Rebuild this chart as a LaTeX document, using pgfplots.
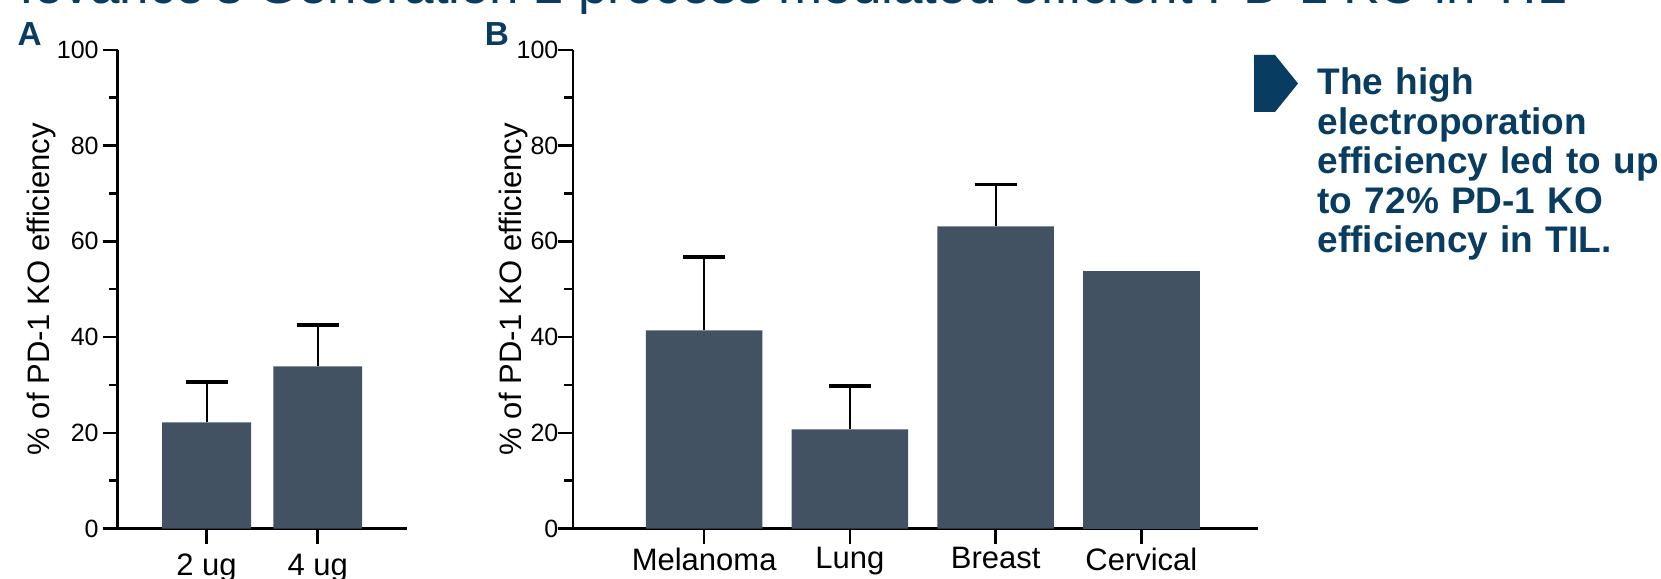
\documentclass[border=0pt]{standalone}
\usepackage{pgfplots}
\pgfplotsset{compat=1.18}
\usepackage{fontspec}
\setmainfont{Liberation Sans}
\definecolor{barcol}{RGB}{67,82,99}
\definecolor{navy}{RGB}{8,60,96}

\pgfplotsset{
 panel/.style={
  scale only axis, height=143.64pt,
  axis lines=left, axis line style={-, line width=0.8pt, black},
  ymin=0, ymax=100, ytick={0,20,...,100}, minor ytick={10,30,50,70,90},
  tick align=outside, major tick length=4.5pt, minor tick length=2.6pt,
  every tick/.style={black, line width=0.75pt},
  every minor tick/.style={black, line width=0.75pt},
  xtick=data,
  ybar, bar shift=0pt, bar width=0.8,
  /pgf/number format/assume math mode=true,
  yticklabel style={font=\fontsize{7.5}{9}\selectfont, inner sep=1pt},
  xticklabel style={font=\fontsize{9.3}{11}\selectfont, inner sep=1pt},
  ylabel={\% of PD-1 KO efficiency},
  ylabel style={font=\fontsize{9.3}{11}\selectfont, at={(axis description cs:0,0.5)}, anchor=center},
  clip=false,
 },
 errs/.style={fill=barcol, draw=none,
  error bars/.cd, y dir=plus, y explicit,
  error bar style={line width=0.6pt, black},
  error mark options={rotate=90, black, line width=1pt, mark size=6.3pt}},
}

\begin{document}
\begin{tikzpicture}
% title (clipped at top edge)
\node[anchor=base west, inner sep=0pt, font=\fontsize{15.9}{18}\selectfont, text=navy] at (5.7pt,-1.2pt)
  {Iovance's Generation 2 process mediated efficient PD-1 KO in TIL};

\node[font=\fontsize{10}{11}\selectfont\bfseries, text=navy] at (8.9pt,-10.3pt) {A};
\node[font=\fontsize{10}{11}\selectfont\bfseries, text=navy] at (149.1pt,-10.3pt) {B};

% Panel A
\begin{axis}[panel, at={(35.28pt,-158.58pt)}, anchor=origin, width=86.73pt,
  xmin=0.2, xmax=2.8, xticklabels={2 ug, 4 ug},
  xticklabel style={yshift=-2pt},
  ylabel style={yshift=22.7pt}]
\addplot[errs] coordinates {(1,22.2) +- (0,8.4) (2,33.9) +- (0,8.6)};
\end{axis}

% Panel B
\begin{axis}[panel, at={(171.9pt,-158.58pt)}, anchor=origin, width=205.5pt,
  xmin=0.1, xmax=4.8, xtick={1,2,3,4}, xticklabels={Melanoma, Lung, Breast, Cervical},
  yticklabel style={xshift=1.3pt},
  ylabel style={yshift=18pt}]
\addplot[errs] coordinates {(1,41.4) +- (0,15.3) (2,20.7) +- (0,9.1) (3,63.1) +- (0,8.7)};
\addplot[fill=barcol, draw=none] coordinates {(4,53.9)};
\end{axis}

% callout
\fill[navy] (376.2pt,-16.5pt) -- (382.5pt,-16.5pt) -- (389.4pt,-25.05pt) -- (382.5pt,-33.6pt) -- (376.2pt,-33.6pt) -- cycle;
\node[anchor=base west, inner sep=0pt, text width=130pt, align=left, text=navy,
  font=\fontsize{11.1}{11.85}\selectfont\bfseries] at (395.1pt,-28.5pt)
  {The high\\ electroporation\\ efficiency led to up\\ to 72\% PD-1 KO\\ efficiency in TIL.};

\pgfresetboundingbox
\useasboundingbox (0,0) rectangle (498.3pt,-173.7pt);
\end{tikzpicture}
\end{document}
